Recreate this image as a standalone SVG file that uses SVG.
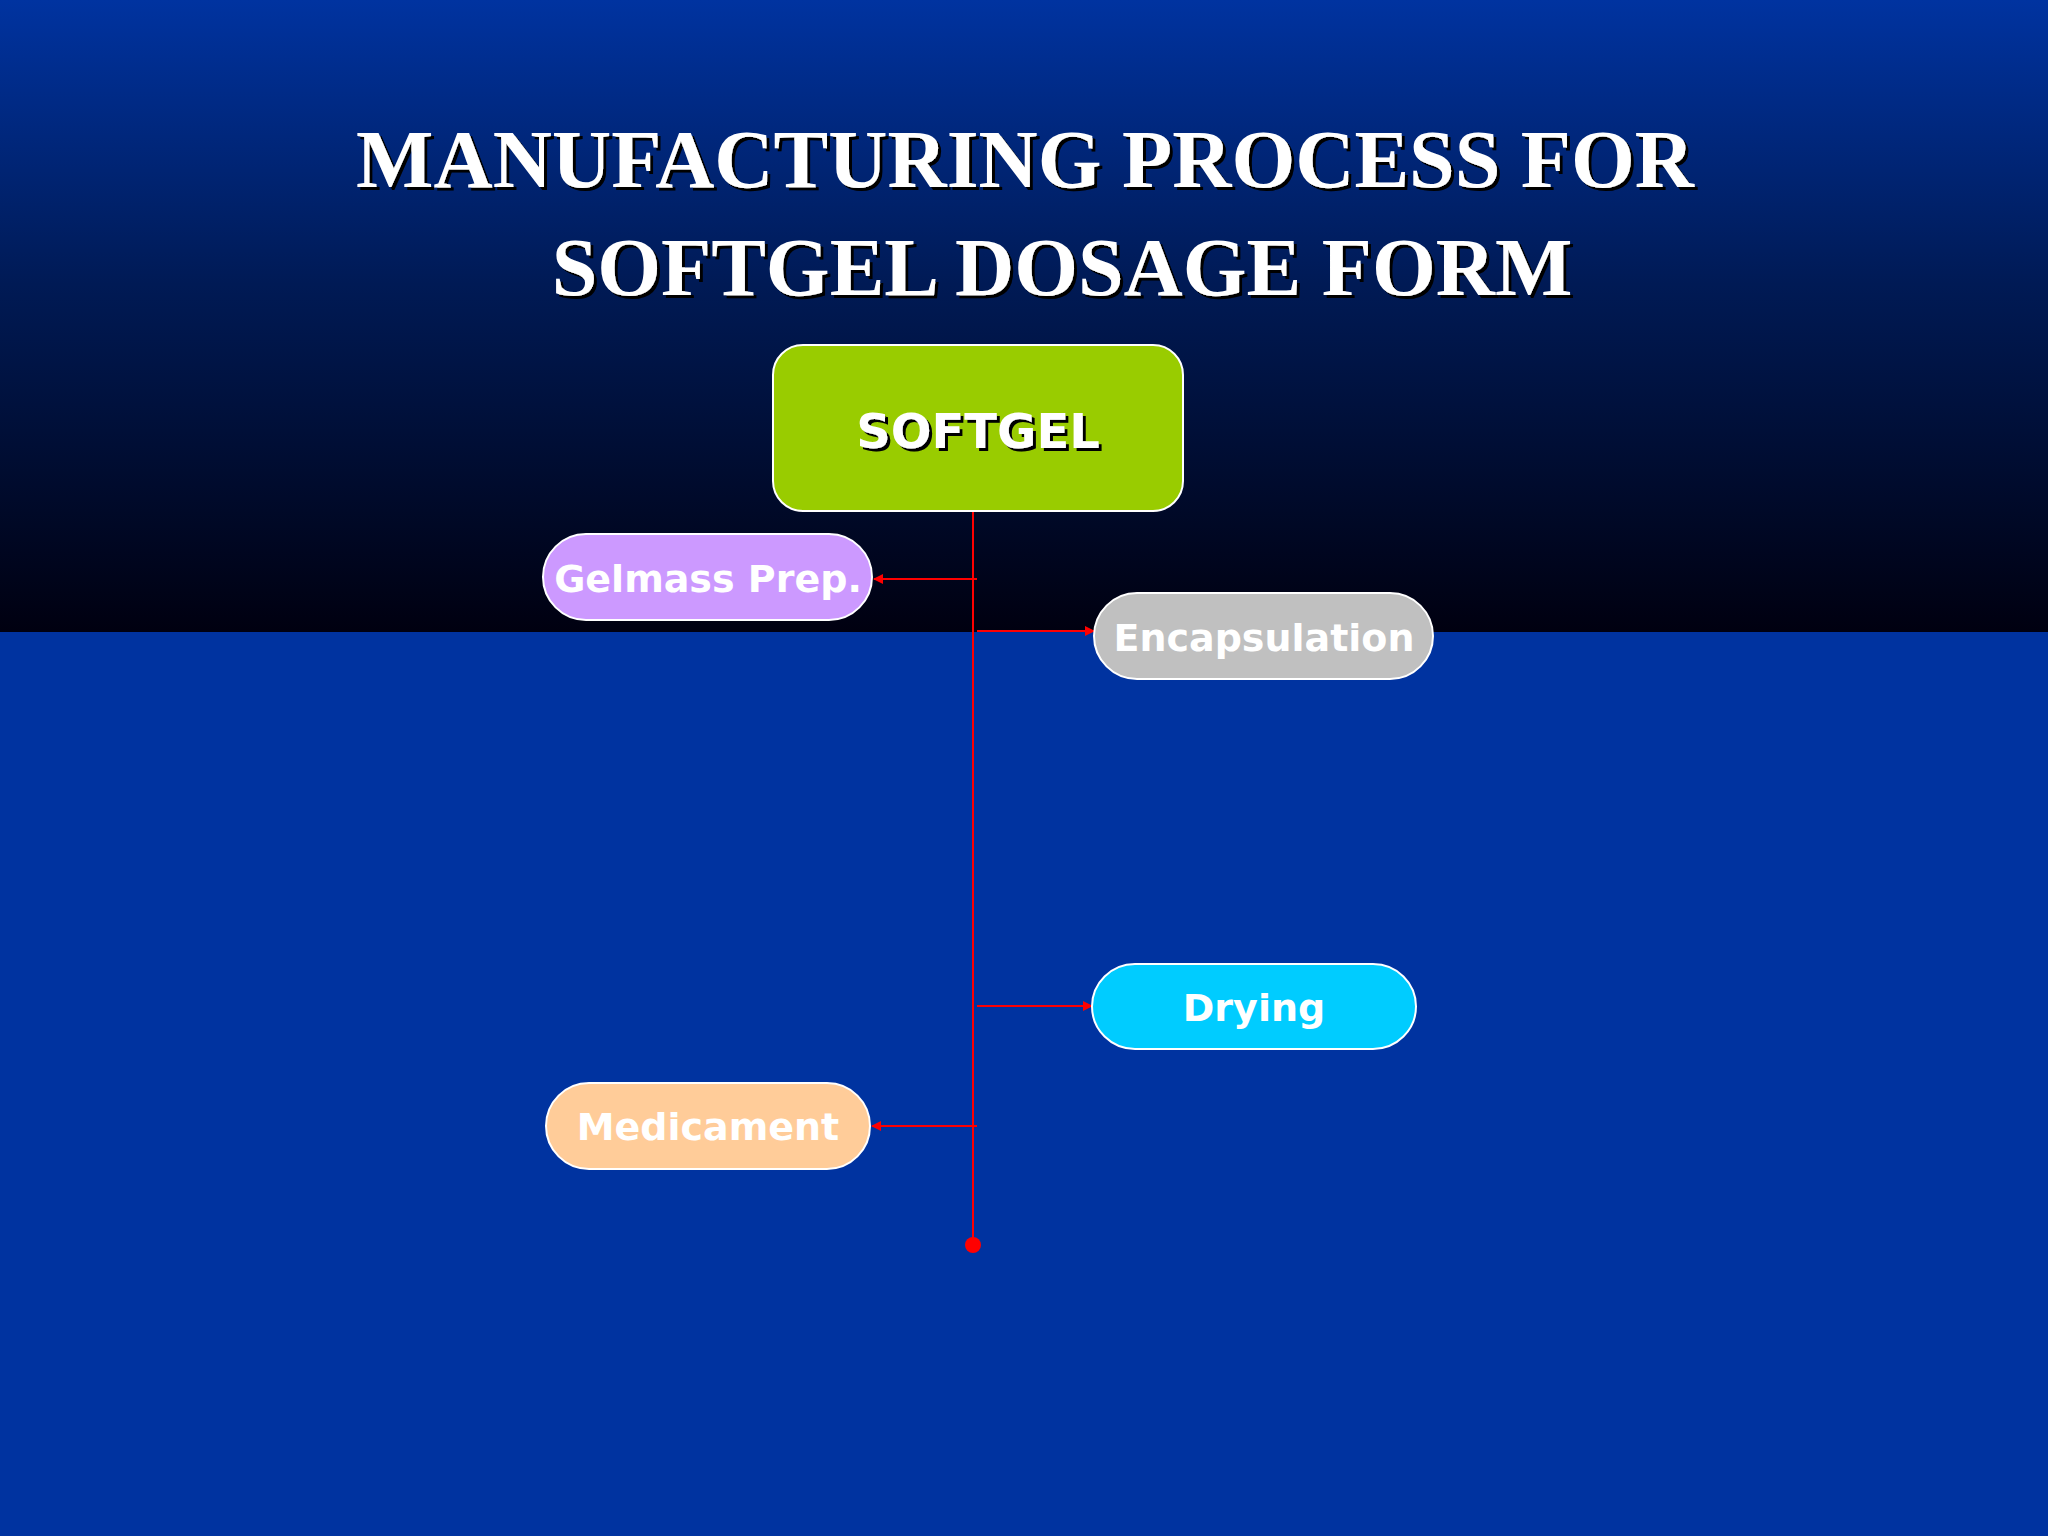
<svg xmlns="http://www.w3.org/2000/svg" width="2048" height="1536" viewBox="0 0 2048 1536">
<defs>
<linearGradient id="bg" x1="0" y1="0" x2="0" y2="1">
<stop offset="0" stop-color="#0033a0"/><stop offset="0.45" stop-color="#001a55"/><stop offset="1" stop-color="#000010"/>
</linearGradient>
<marker id="ah" markerWidth="10" markerHeight="10" refX="9" refY="5" orient="auto" markerUnits="userSpaceOnUse"><path d="M0,0 L10,5 L0,10 z" fill="#ff0000"/></marker>
<filter id="sh"><feDropShadow dx="3" dy="3" stdDeviation="0.5" flood-color="#000"/></filter>
</defs>
<style>
.t{font-family:"Liberation Serif",serif;font-weight:bold;font-size:82px;fill:#fff;text-anchor:middle;filter:url(#sh)}
.n{font-family:"DejaVu Sans",sans-serif;font-weight:bold;fill:#fff;text-anchor:middle;dominant-baseline:central}
.c{stroke:#ff0000;stroke-width:2;fill:none}
.p{stroke:#fff;stroke-width:2}
</style>
<rect width="2048" height="1536" fill="#0033a0"/>
<rect width="2048" height="632" fill="url(#bg)"/>
<text class="t" x="1025" y="187">MANUFACTURING PROCESS FOR</text>
<text class="t" x="1062" y="295">SOFTGEL DOSAGE FORM</text>
<g id="connectors">
<line class="c" x1="973" y1="511" x2="973" y2="1245"/>
<circle cx="973" cy="1245" r="8" fill="#ff0000"/>
<line class="c" x1="977" y1="579" x2="874" y2="579" marker-end="url(#ah)"/>
<line class="c" x1="977" y1="631" x2="1094" y2="631" marker-end="url(#ah)"/>
<line class="c" x1="977" y1="1006" x2="1092" y2="1006" marker-end="url(#ah)"/>
<line class="c" x1="977" y1="1126" x2="872" y2="1126" marker-end="url(#ah)"/>
</g>
<g id="softgel"><rect class="p" x="773" y="345" width="410" height="166" rx="30" fill="#99cc00"/><text class="n" x="978" y="431" font-size="48" filter="url(#sh)">SOFTGEL</text></g>
<g id="gelmass"><rect class="p" x="543" y="534" width="329" height="86" rx="43" fill="#cc99ff"/><text class="n" x="708" y="579" font-size="38">Gelmass Prep.</text></g>
<g id="encapsulation"><rect class="p" x="1094" y="593" width="339" height="86" rx="43" fill="#c0c0c0"/><text class="n" x="1264" y="638" font-size="38">Encapsulation</text></g>
<g id="drying"><rect class="p" x="1092" y="964" width="324" height="85" rx="43" fill="#00ccff"/><text class="n" x="1254" y="1008" font-size="38">Drying</text></g>
<g id="medicament"><rect class="p" x="546" y="1083" width="324" height="86" rx="43" fill="#ffcc99"/><text class="n" x="708" y="1127" font-size="38">Medicament</text></g>
</svg>
